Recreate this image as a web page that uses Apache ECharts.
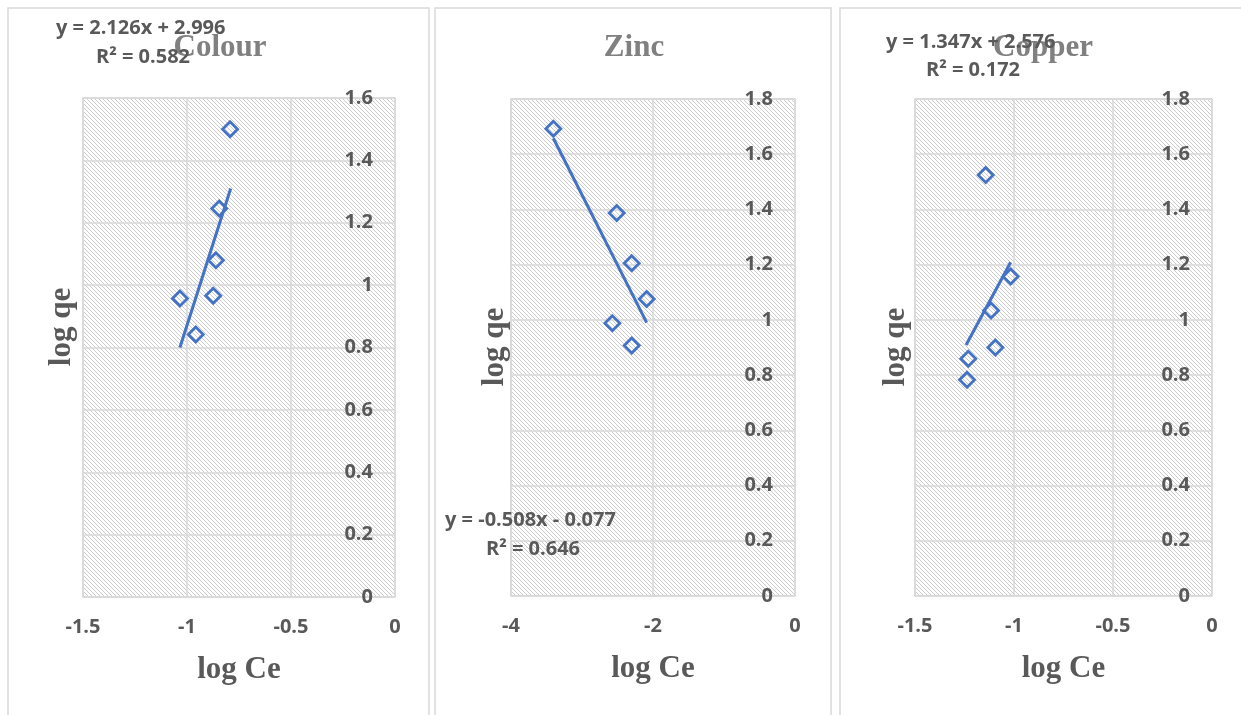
<!DOCTYPE html>
<html>
<head>
<meta charset="utf-8">
<title>log qe vs log Ce</title>
<script src="https://cdn.jsdelivr.net/npm/echarts@6/dist/echarts.min.js"></script>
<style>
  html, body { margin: 0; padding: 0; background: #fff; }
  #chart { width: 1241px; height: 715px; }
</style>
</head>
<body>
<div id="chart"></div>
<script>
// values
var colourLogCe = [-0.793, -0.845, -0.861, -0.874, -1.034, -0.958];
var colourLogQe = [1.50, 1.246, 1.080, 0.966, 0.957, 0.842];
var zincLogCe = [-3.404, -2.511, -2.30, -2.089, -2.573, -2.30];
var zincLogQe = [1.692, 1.387, 1.205, 1.076, 0.988, 0.907];
var copperLogCe = [-1.143, -1.017, -1.116, -1.094, -1.231, -1.237];
var copperLogQe = [1.525, 1.157, 1.034, 0.900, 0.859, 0.783];

// trendline ends
var colourTrendX = [-1.034, -0.790];
var colourTrendY = [0.80, 1.31];
var zincTrendX = [-3.404, -2.089];
var zincTrendY = [1.658, 0.99];
var copperTrendX = [-1.242, -1.017];
var copperTrendY = [0.909, 1.209];

var panelTitles = ["Colour", "Zinc", "Copper"];
var equations = ["y = 2.126x + 2.996", "y = -0.508x - 0.077", "y = 1.347x + 2.576"];
var rSquared = ["R² = 0.582", "R² = 0.646", "R² = 0.172"];

var blue = "#4472c4";
var gridColor = "#d9d9d9";
var textGrey = "#595959";
var sans = "Open Sans";

// hatched plot background
var tile = document.createElement("canvas");
tile.width = 4;
tile.height = 4;
var tctx = tile.getContext("2d");
tctx.fillStyle = "#ffffff";
tctx.fillRect(0, 0, 4, 4);
tctx.fillStyle = "#cccccc";
for (var i = 0; i < 4; i++) tctx.fillRect(i, i, 1, 1);

function pairs(xs, ys) {
  return xs.map(function (x, k) { return [x, ys[k]]; });
}

var grids = [
  { left: 83, top: 98, width: 312, height: 499 },
  { left: 511, top: 99, width: 284, height: 497 },
  { left: 915, top: 99, width: 297, height: 497 }
];
grids.forEach(function (g) {
  g.show = true;
  g.backgroundColor = { image: tile, repeat: "repeat" };
  g.borderColor = gridColor;
  g.borderWidth = 1.5;
});

var xRanges = [[-1.5, 0, 0.5], [-4, 0, 2], [-1.5, 0, 0.5]];
var yMax = [1.6, 1.8, 1.8];

function xAxis(k) {
  return {
    gridIndex: k,
    type: "value",
    min: xRanges[k][0],
    max: xRanges[k][1],
    interval: xRanges[k][2],
    name: "log Ce",
    nameLocation: "middle",
    nameGap: 57,
    nameTextStyle: { fontFamily: "Liberation Serif", fontWeight: "bold", fontSize: 31, color: textGrey },
    axisLine: { show: false },
    axisTick: { show: false },
    axisLabel: { margin: 20, fontFamily: sans, fontWeight: "bold", fontSize: 20, color: textGrey },
    splitLine: { show: true, lineStyle: { color: gridColor, width: 1.5 } }
  };
}

function yAxis(k) {
  return {
    gridIndex: k,
    type: "value",
    position: "right",
    min: 0,
    max: yMax[k],
    interval: 0.2,
    axisLine: { show: false },
    axisTick: { show: false },
    axisLabel: { inside: true, margin: 22, fontFamily: sans, fontWeight: "bold", fontSize: 20, color: textGrey },
    splitLine: { show: true, lineStyle: { color: gridColor, width: 1.5 } }
  };
}

function points(k, data) {
  return {
    type: "scatter",
    xAxisIndex: k,
    yAxisIndex: k,
    data: data,
    symbol: "diamond",
    symbolSize: 15,
    itemStyle: { color: "rgba(255,255,255,0)", borderColor: blue, borderWidth: 2.8, opacity: 1 }
  };
}

function trend(k, data) {
  return {
    type: "line",
    xAxisIndex: k,
    yAxisIndex: k,
    data: data,
    showSymbol: false,
    lineStyle: { color: blue, width: 3 }
  };
}

function txt(x, y, s, style) {
  return {
    type: "text",
    x: x,
    y: y,
    z: 10,
    style: Object.assign({ text: s, fill: textGrey, fontFamily: sans, fontWeight: "bold", fontSize: 20 }, style || {})
  };
}

var titleStyle = { fill: "#808080", fontFamily: "Liberation Serif", fontSize: 31, align: "center", verticalAlign: "middle" };
var nameStyle = { fontFamily: "Liberation Serif", fontSize: 31, align: "center", verticalAlign: "middle" };

var graphics = [
  { type: "rect", shape: { x: 8, y: 8, width: 421, height: 720 }, style: { fill: null, stroke: gridColor, lineWidth: 1.5 }, silent: true },
  { type: "rect", shape: { x: 435, y: 8, width: 396, height: 720 }, style: { fill: null, stroke: gridColor, lineWidth: 1.5 }, silent: true },
  { type: "rect", shape: { x: 840, y: 8, width: 420, height: 720 }, style: { fill: null, stroke: gridColor, lineWidth: 1.5 }, silent: true },
  txt(220, 48, panelTitles[0], titleStyle),
  txt(634, 48, panelTitles[1], titleStyle),
  txt(1043, 48, panelTitles[2], titleStyle),
  Object.assign(txt(62, 327, "log qe", nameStyle), { rotation: Math.PI / 2 }),
  Object.assign(txt(495, 347, "log qe", nameStyle), { rotation: Math.PI / 2 }),
  Object.assign(txt(896, 347, "log qe", nameStyle), { rotation: Math.PI / 2 }),
  txt(56, 28, equations[0], { verticalAlign: "middle" }),
  txt(96, 57, rSquared[0], { verticalAlign: "middle" }),
  txt(445, 520, equations[1], { verticalAlign: "middle" }),
  txt(486, 549, rSquared[1], { verticalAlign: "middle" }),
  txt(886, 42, equations[2], { verticalAlign: "middle" }),
  txt(926, 70, rSquared[2], { verticalAlign: "middle" })
];

var chart = echarts.init(document.getElementById("chart"));
chart.setOption({
  animation: false,
  grid: grids,
  xAxis: [xAxis(0), xAxis(1), xAxis(2)],
  yAxis: [yAxis(0), yAxis(1), yAxis(2)],
  series: [
    points(0, pairs(colourLogCe, colourLogQe)),
    trend(0, pairs(colourTrendX, colourTrendY)),
    points(1, pairs(zincLogCe, zincLogQe)),
    trend(1, pairs(zincTrendX, zincTrendY)),
    points(2, pairs(copperLogCe, copperLogQe)),
    trend(2, pairs(copperTrendX, copperTrendY))
  ],
  graphic: graphics
});
</script>
</body>
</html>
